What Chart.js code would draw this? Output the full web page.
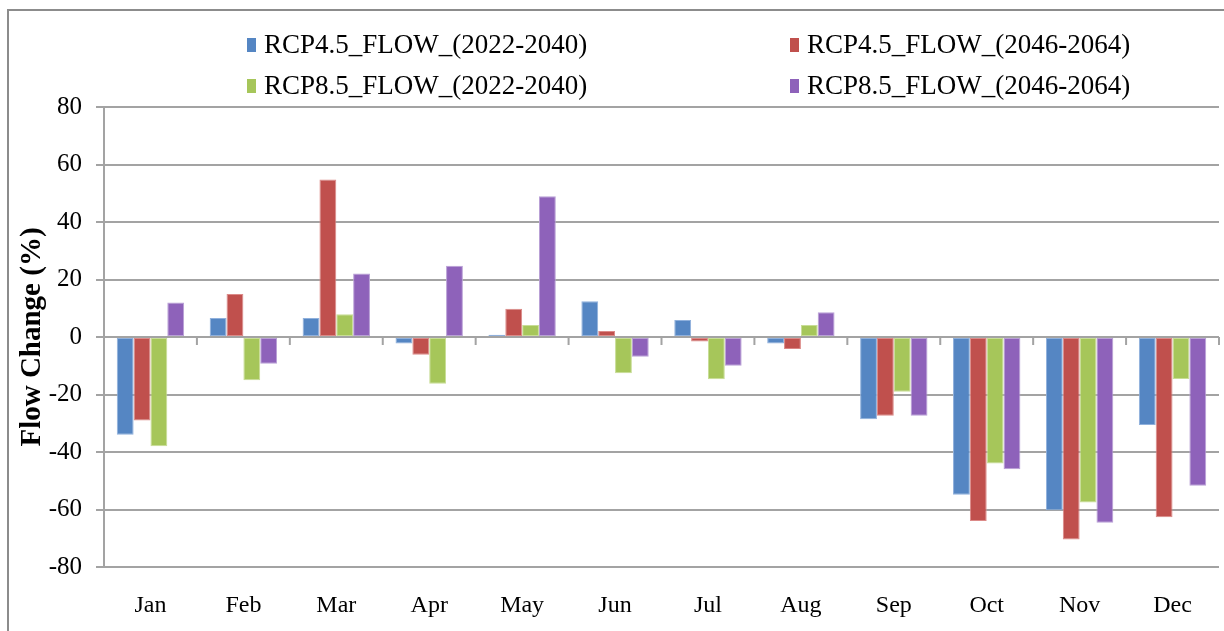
<!DOCTYPE html>
<html>
<head>
<meta charset="utf-8">
<script src="https://cdn.jsdelivr.net/npm/chart.js@4.4.1/dist/chart.umd.min.js"></script>
<style>
  html, body { margin: 0; padding: 0; background: #fff; }
  #wrap { position: relative; width: 1224px; height: 631px; overflow: hidden; }
  #frame { position: absolute; left: 7px; top: 9px; width: 1300px; height: 700px;
           border-left: 2px solid #8c8c8c; border-top: 2px solid #8c8c8c; }
  canvas { position: absolute; left: 0; top: 0; }
</style>
</head>
<body>
<div id="wrap">
  <div id="frame"></div>
  <canvas id="flowChart" width="1224" height="631"></canvas>
</div>
<script>
const months = ['Jan', 'Feb', 'Mar', 'Apr', 'May', 'Jun', 'Jul', 'Aug', 'Sep', 'Oct', 'Nov', 'Dec'];

const seriesNames = [
    'RCP4.5_FLOW_(2022-2040)',
    'RCP4.5_FLOW_(2046-2064)',
    'RCP8.5_FLOW_(2022-2040)',
    'RCP8.5_FLOW_(2046-2064)'
];

const rcp45Early = [-34, 6.6, 6.6, -2.3, 0.8, 12.4, 5.9, -2.3, -28.6, -54.9, -60.3, -30.6];
const rcp45Late  = [-29, 15, 54.8, -6.2, 9.8, 2.1, -1.6, -4.2, -27.4, -64, -70.4, -62.7];
const rcp85Early = [-38, -15, 7.9, -16.3, 4.2, -12.6, -14.7, 4.2, -19, -44, -57.6, -14.6];
const rcp85Late  = [12, -9.3, 22.1, 24.8, 49, -6.9, -10, 8.6, -27.4, -46, -64.6, -51.7];

const yTicks = [80, 60, 40, 20, 0, -20, -40, -60, -80];

const barColors = ['#5586C3', '#C0504D', '#A6C65A', '#8E62BA'];
const barEdges = ['#8fb0dc', '#dc8a88', '#c8dd96', '#b9a0d6'];

const serif = "'Liberation Serif', 'Times New Roman', serif";
const gridGray = '#a3a3a3';

Chart.defaults.font.family = serif;
Chart.defaults.color = '#000';

// legend drawn as a 2 x 2 grid above the plot, like the original
const gridLegend = {
    id: 'gridLegend',
    afterDraw(chart) {
        const ctx = chart.ctx;
        const cols = [247, 790];
        const rows = [45, 86];
        ctx.save();
        ctx.font = '27px ' + serif;
        ctx.textBaseline = 'middle';
        chart.data.datasets.forEach((ds, i) => {
            const x = cols[i % 2];
            const y = rows[Math.floor(i / 2)];
            ctx.fillStyle = ds.backgroundColor;
            ctx.fillRect(x, y - 7, 9, 14);
            ctx.fillStyle = '#000';
            ctx.fillText(ds.label, x + 17, y + 1);
        });
        ctx.restore();
    }
};

// small tick marks hanging below the zero line between months
const zeroTicks = {
    id: 'zeroTicks',
    afterDatasetsDraw(chart) {
        const ctx = chart.ctx;
        const xs = chart.scales.x;
        const y0 = chart.scales.y.getPixelForValue(0);
        const half = (xs.getPixelForTick(1) - xs.getPixelForTick(0)) / 2;
        ctx.save();
        ctx.strokeStyle = gridGray;
        ctx.lineWidth = 2;
        ctx.beginPath();
        for (let i = 0; i < months.length; i++) {
            const x = xs.getPixelForTick(i) + half;
            ctx.moveTo(x, y0);
            ctx.lineTo(x, y0 + 8);
        }
        ctx.stroke();
        ctx.restore();
    }
};

function makeDataset(idx, values) {
    return {
        label: seriesNames[idx],
        data: values,
        backgroundColor: barColors[idx],
        borderColor: barEdges[idx],
        borderWidth: 1,
        borderSkipped: false,
        barPercentage: 1.0,
        categoryPercentage: 0.725
    };
}

function initFlowChart() {
    const ctx = document.getElementById('flowChart').getContext('2d');

    const config = {
        type: 'bar',
        data: {
            labels: months,
            datasets: [
                makeDataset(0, rcp45Early),
                makeDataset(1, rcp45Late),
                makeDataset(2, rcp85Early),
                makeDataset(3, rcp85Late)
            ]
        },
        options: {
            responsive: false,
            animation: false,
            layout: { padding: { top: 107, left: 8, right: 5, bottom: 0 } },
            plugins: {
                legend: { display: false },
                tooltip: { enabled: false }
            },
            scales: {
                x: {
                    grid: { display: false, drawTicks: false },
                    border: { display: false },
                    ticks: {
                        color: '#000',
                        padding: 24,
                        font: { family: serif, size: 24 }
                    },
                    afterFit(scale) { scale.height = 64; }
                },
                y: {
                    min: -80,
                    max: 80,
                    afterBuildTicks(scale) {
                        scale.ticks = yTicks.map(v => ({ value: v }));
                    },
                    grid: {
                        color: gridGray,
                        lineWidth: 2,
                        tickLength: 8
                    },
                    border: { color: gridGray, width: 2 },
                    ticks: {
                        color: '#000',
                        padding: 14,
                        font: { family: serif, size: 25 }
                    },
                    title: {
                        display: true,
                        text: 'Flow Change (%)',
                        color: '#000',
                        padding: { top: 7, bottom: 0 },
                        font: { family: serif, size: 29, weight: 'bold' }
                    },
                    afterFit(scale) { scale.width = 96; }
                }
            }
        },
        plugins: [zeroTicks, gridLegend]
    };

    return new Chart(ctx, config);
}

document.addEventListener('DOMContentLoaded', () => {
    initFlowChart();
});
</script>
</body>
</html>
